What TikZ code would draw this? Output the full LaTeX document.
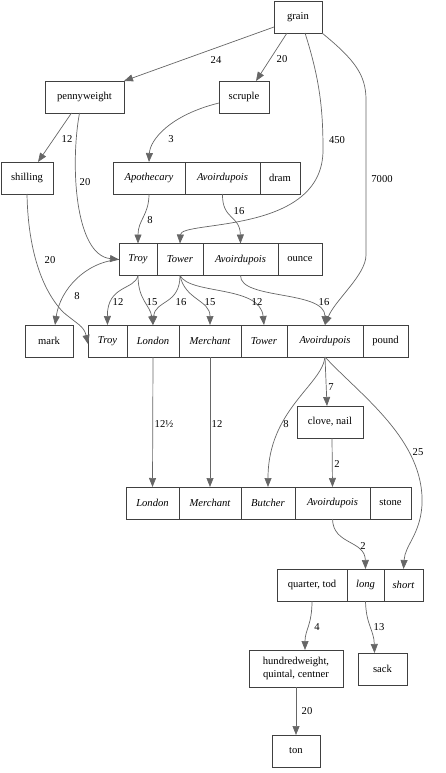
\documentclass[tikz,border=0pt]{standalone}
\usepackage{fontspec}
\setmainfont{Liberation Serif}
\newfontfamily\unitfam{Liberation Serif}
\usetikzlibrary{arrows.meta}
\usetikzlibrary{positioning}

\newcommand\unitfont{\unitfam\fontsize{10.6}{12.5}\selectfont}

\tikzset{
  box/.style={draw=black!75, line width=0.8pt, minimum height=32, inner sep=2pt, outer sep=0pt, font=\unitfont},
  fld/.style={box, font=\unitfont\itshape},
  edge/.style={draw=black!60, line width=0.7pt, -{Triangle[length=9pt,width=7pt]}},
  lbl/.style={inner sep=1pt, font=\unitfont}
}

\begin{document}
\begin{tikzpicture}[x=1pt,y=-1pt]
  \useasboundingbox (0,0) rectangle (445,773);

  % single units
  \node[box, minimum width=48] (grain) at (298,17) {grain};
  \node[box, minimum width=79] (pw) at (84.5,97) {pennyweight};
  \node[box, minimum width=50] (scruple) at (244,97) {scruple};
  \node[box, minimum width=52] (shilling) at (27,178) {shilling};
  \node[box, minimum width=48] (mark) at (49,341) {mark};
  \node[box, minimum width=66] (clove) at (330,422) {clove, nail};
  \node[box, minimum width=94, minimum height=37, align=center] (hw) at (296,668.5) {hundredweight,\\quintal, centner};
  \node[box, minimum width=49] (sack) at (382.5,669) {sack};
  \node[box, minimum width=48] (ton) at (296,751) {ton};

  % dram
  \node[fld, anchor=west, minimum width=72] (dApo) at (113,178) {Apothecary};
  \node[fld, right=0pt of dApo, minimum width=75] (dAvo) {Avoirdupois};
  \node[box, right=0pt of dAvo, minimum width=40] (dram) {dram};

  % ounce
  \node[fld, anchor=west, minimum width=38] (oTroy) at (119,259.5) {Troy};
  \node[fld, right=0pt of oTroy, minimum width=46] (oTower) {Tower};
  \node[fld, right=0pt of oTower, minimum width=75] (oAvo) {Avoirdupois};
  \node[box, right=0pt of oAvo, minimum width=44] (ounce) {ounce};

  % pound
  \node[fld, anchor=west, minimum width=39] (pTroy) at (88,341) {Troy};
  \node[fld, right=0pt of pTroy, minimum width=52] (pLon) {London};
  \node[fld, right=0pt of pLon, minimum width=62] (pMer) {Merchant};
  \node[fld, right=0pt of pMer, minimum width=46] (pTower) {Tower};
  \node[fld, right=0pt of pTower, minimum width=76] (pAvo) {Avoirdupois};
  \node[box, right=0pt of pAvo, minimum width=45] (pound) {pound};

  % stone
  \node[fld, anchor=west, minimum width=53] (sLon) at (126,503) {London};
  \node[fld, right=0pt of sLon, minimum width=62] (sMer) {Merchant};
  \node[fld, right=0pt of sMer, minimum width=54] (sBut) {Butcher};
  \node[fld, right=0pt of sBut, minimum width=75] (sAvo) {Avoirdupois};
  \node[box, right=0pt of sAvo, minimum width=41] (stone) {stone};

  % quarter
  \node[box, anchor=west, minimum width=70] (qQua) at (277,585) {quarter, tod};
  \node[fld, right=0pt of qQua, minimum width=37] (qLong) {long};
  \node[fld, right=0pt of qLong, minimum width=39] (qShort) {short};

  % conversions
  \draw[edge] ([yshift=-10]grain.west) -- (pw.north east) node[lbl] at (216,60) {24};
  \draw[edge] ([xshift=-11]grain.south) -- ([xshift=12]scruple.north) node[lbl] at (282,59) {20};
  \draw[edge] ([xshift=7]grain.south) .. controls (320,80) and (323,110) .. (323,150)
    .. controls (323,235) and (181,220) .. (oTower.north) node[lbl] at (337,140) {450};
  \draw[edge] (grain.south east) .. controls (355,60) and (366,75) .. (366,100) -- (366,255)
    .. controls (366,275) and (335,300) .. (pAvo.north) node[lbl] at (382,179) {7000};
  \draw[edge] ([xshift=-13]pw.south) -- ([xshift=11]shilling.north) node[lbl] at (67,139) {12};
  \draw[edge] ([xshift=-5]pw.south) .. controls (70,165) and (75,255) .. (oTroy.west) node[lbl] at (85,182) {20};
  \draw[edge] ([yshift=-6]scruple.west) .. controls (170,115) and (150,140) .. (dApo.north) node[lbl] at (171,139) {3};
  \draw[edge] (shilling.south) .. controls (28,250) and (42,290) .. (63,312)
    .. controls (77,324) and (84,326) .. ([yshift=-3]pTroy.west) node[lbl] at (50,260) {20};
  \draw[edge] (dApo.south) .. controls (149,215) and (138,220) .. (oTroy.north) node[lbl] at (150,220) {8};
  \draw[edge] (dAvo.south) .. controls (222,220) and (240,215) .. (oAvo.north) node[lbl] at (239,211) {16};
  \draw[edge] (oTroy.west) .. controls (85,262) and (60,290) .. ([xshift=6]mark.north) node[lbl] at (77,296) {8};
  \draw[edge] (oTroy.south) .. controls (135,290) and (107,285) .. (pTroy.north) node[lbl] at (118,302) {12};
  \draw[edge] (oTroy.south) .. controls (138,300) and (150,305) .. (pLon.north) node[lbl] at (152,302) {15};
  \draw[edge] (oTower.south) .. controls (180,305) and (155,300) .. (pLon.north) node[lbl] at (181,302) {16};
  \draw[edge] (oTower.south) .. controls (185,300) and (210,300) .. (pMer.north) node[lbl] at (210,302) {15};
  \draw[edge] (oTower.south) .. controls (190,295) and (260,285) .. (pTower.north) node[lbl] at (257,302) {12};
  \draw[edge] (oAvo.south) .. controls (240,300) and (325,290) .. (pAvo.north) node[lbl] at (324,302) {16};
  \draw[edge] (pLon.south) -- (sLon.north) node[lbl] at (164,424) {12½};
  \draw[edge] (pMer.south) -- (sMer.north) node[lbl] at (217,424) {12};
  \draw[edge] (pAvo.south) .. controls (322,385) and (268,410) .. (sBut.north) node[lbl] at (286,424) {8};
  \draw[edge] (pAvo.south) -- ([xshift=-3]clove.north) node[lbl] at (331,387) {7};
  \draw[edge] (pAvo.south) .. controls (360,395) and (425,440) .. (422,505)
    .. controls (420,535) and (405,545) .. (qShort.north) node[lbl] at (418,452) {25};
  \draw[edge] ([xshift=2]clove.south) -- (sAvo.north) node[lbl] at (337,464) {2};
  \draw[edge] (sAvo.south) .. controls (333,545) and (365,540) .. (qLong.north) node[lbl] at (363,546) {2};
  \draw[edge] (qQua.south) .. controls (312,625) and (305,630) .. ([xshift=9]hw.north) node[lbl] at (317,627) {4};
  \draw[edge] (qLong.south) .. controls (366,625) and (374,630) .. ([xshift=-8]sack.north) node[lbl] at (379,627) {13};
  \draw[edge] (hw.south) -- (ton.north) node[lbl] at (307,711) {20};
\end{tikzpicture}
\end{document}
